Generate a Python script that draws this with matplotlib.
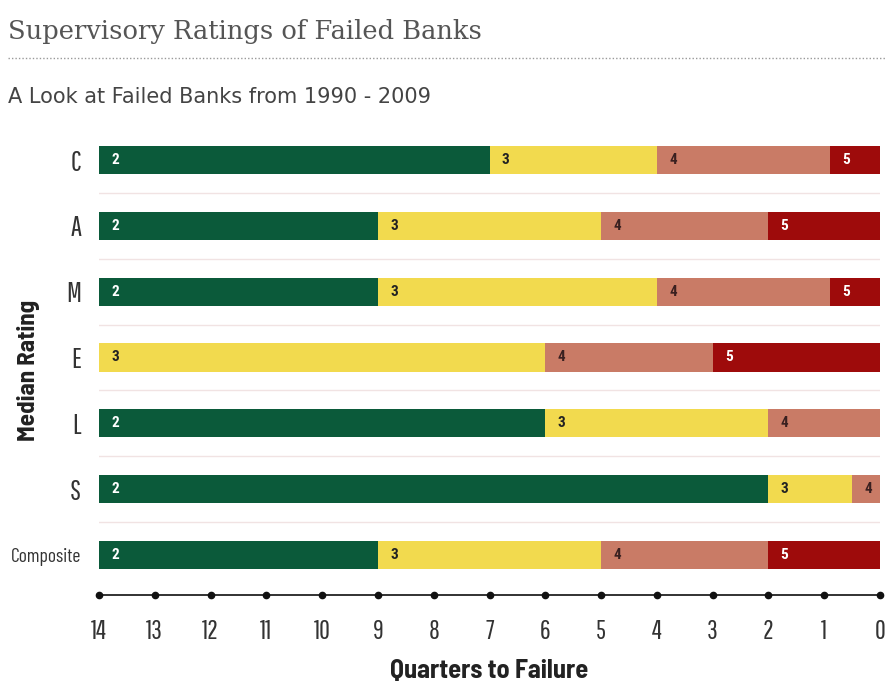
import matplotlib
matplotlib.use("Agg")
import matplotlib.pyplot as plt
from matplotlib.lines import Line2D

# median supervisory rating by quarter before failure (14 quarters out -> failure)
ratings = ["C", "A", "M", "E", "L", "S", "Composite"]
first_rating = [2, 2, 2, 3, 2, 2, 2]
# quarter at which the rating steps down to the next (worse) value
breaks = [
    [7, 4, 0.9],
    [9, 5, 2],
    [9, 4, 0.9],
    [6, 3],
    [6, 2],
    [2, 0.5],
    [9, 5, 2],
]
quarters = list(range(14, -1, -1))

colors = {2: "#0b5a3a", 3: "#f2da4e", 4: "#c97b66", 5: "#9e0b0b"}
text_colors = {2: "white", 3: "#222222", 4: "#3a2020", 5: "white"}

light = ["Pathway Gothic One", "DejaVu Sans"]
bold = ["Roboto Condensed", "DejaVu Sans"]
heavy = ["Barlow Semi Condensed", "DejaVu Sans"]

fig = plt.figure(figsize=(8.89, 6.82), dpi=100)
ax = fig.add_axes([99 / 889, 1 - 595 / 682, (880 - 99) / 889, (595 - 130) / 682])

for i, (name, r0, bk) in enumerate(zip(ratings, first_rating, breaks)):
    edges = [14] + bk + [0]
    for j in range(len(edges) - 1):
        r = r0 + j
        start, end = edges[j], edges[j + 1]
        ax.barh(i, start - end, left=end, height=0.43, color=colors[r], linewidth=0)
        ax.text(start - 0.22, i, str(r), ha="left", va="center", fontsize=11,
                fontweight="bold", family=bold, color=text_colors[r])

# faint separators between rows
for k in range(len(ratings)):
    ax.axhline(k - 0.5, color="#f1e3e3", linewidth=1, zorder=0)

ax.set_xlim(14, 0)
ax.set_ylim(len(ratings) - 1 + 0.608, -0.456)

for s in ["top", "right", "left"]:
    ax.spines[s].set_visible(False)
ax.spines["bottom"].set_color("#222222")
ax.spines["bottom"].set_linewidth(1.3)
ax.plot(quarters, [ax.get_ylim()[0]] * len(quarters), "o", color="#111111",
        markersize=4.5, clip_on=False, zorder=5)

ax.set_xticks(quarters)
ax.set_xticklabels([str(q) for q in quarters], family=light, fontsize=19, color="#333333")
ax.tick_params(axis="x", length=0, pad=17)
ax.set_yticks(range(len(ratings)))
ax.set_yticklabels(ratings, family=light, fontsize=20, color="#333333")
ax.get_yticklabels()[-1].set_family(["Barlow Condensed", "DejaVu Sans"])
ax.get_yticklabels()[-1].set_fontsize(14)
ax.tick_params(axis="y", length=0, pad=13)

ax.set_xlabel("Quarters to Failure", family=heavy, fontsize=19, fontweight="bold",
              color="#222222", labelpad=11)
fig.text(28 / 889, 1 - 370 / 682, "Median Rating", rotation=90, ha="center", va="center",
         family=heavy, fontsize=18, fontweight="bold", color="#222222")

fig.text(8 / 889, 1 - 31 / 682, "Supervisory Ratings of Failed Banks", ha="left", va="center",
         family="DejaVu Serif", fontsize=18.5, color="#555555")
fig.add_artist(Line2D([8 / 889, 885 / 889], [1 - 58 / 682] * 2, transform=fig.transFigure,
                      color="#999999", linewidth=1, linestyle=(0, (1, 1.5))))
fig.text(8 / 889, 1 - 97 / 682, "A Look at Failed Banks from 1990 - 2009", ha="left", va="center",
         family="DejaVu Sans", fontsize=15, color="#444444")

fig.savefig("out.png", dpi=100)
